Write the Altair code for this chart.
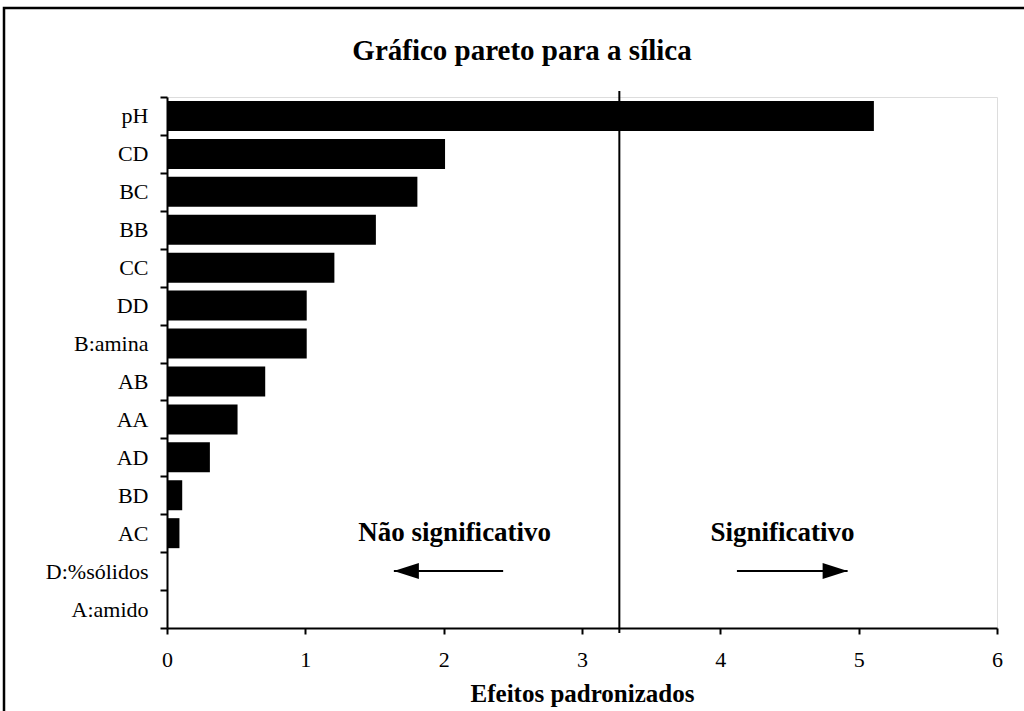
import altair as alt
import pandas as pd

categories = ["pH", "CD", "BC", "BB", "CC", "DD", "B:amina", "AB", "AA",
              "AD", "BD", "AC", "D:%sólidos", "A:amido"]
effects = [5.11, 2.01, 1.81, 1.51, 1.21, 1.01, 1.01, 0.71, 0.51,
           0.31, 0.11, 0.09, 0.0, 0.0]
critical_value = [3.27]
x_ticks = [0, 1, 2, 3, 4, 5, 6]

chart_title = ["Gráfico pareto para a sílica"]

note_labels = ["Não significativo", "Significativo"]
note_x = [2.08, 4.45]
note_row = ["AC", "AC"]

arrow_from = [2.43, 4.12]
arrow_to = [1.64, 4.92]
arrow_row = ["D:%sólidos", "D:%sólidos"]

FONT = "Liberation Serif"
W, H = 830, 531

bars_df = pd.DataFrame({"term": categories, "effect": effects})
notes_df = pd.DataFrame({"term": note_row, "effect": note_x, "label": note_labels})
arrows_df = pd.DataFrame({"term": arrow_row, "effect": arrow_from, "effect_end": arrow_to})
head_left_df = pd.DataFrame({"term": [arrow_row[0]], "effect": [arrow_to[0]]})
head_right_df = pd.DataFrame({"term": [arrow_row[1]], "effect": [arrow_to[1]]})
title_df = pd.DataFrame({"label": chart_title})
dummy_df = pd.DataFrame({"a": [0]})

x_scale = alt.Scale(domain=[0, 6], nice=False, zero=True)
y_scale = alt.Scale(paddingInner=0, paddingOuter=0)

x_axis = alt.Axis(
    values=x_ticks, format="d", grid=False, labelFlush=False,
    domainColor="black", domainWidth=2,
    tickColor="black", tickWidth=2, tickSize=6,
    labelFont=FONT, labelFontSize=22, labelColor="black", labelPadding=15,
    title="Efeitos padronizados", titleFont=FONT, titleFontSize=25,
    titleFontWeight="bold", titleColor="black",
    titleBaseline="middle", titleY=65,
)
y_axis = alt.Axis(
    title=None, grid=False, tickBand="extent",
    domainColor="black", domainWidth=2,
    tickColor="black", tickWidth=2, tickSize=7,
    labelFont=FONT, labelFontSize=22, labelColor="black", labelPadding=12,
)

x_enc = alt.X("effect:Q", scale=x_scale, axis=x_axis, title="Efeitos padronizados")
y_enc = alt.Y("term:N", sort=categories, scale=y_scale, axis=y_axis, title=None)

frame = alt.Chart(dummy_df).mark_rect(
    fill=None, stroke="black", strokeWidth=2.5
).encode(
    x=alt.value(-163), x2=alt.value(900),
    y=alt.value(-89), y2=alt.value(700),
)

title_mark = alt.Chart(title_df).mark_text(
    font=FONT, fontSize=29, fontWeight="bold", color="black",
    baseline="middle", align="center"
).encode(x=alt.value(522 - 167), y=alt.value(-46), text="label:N")

bars = alt.Chart(bars_df).mark_bar(color="black", size=30).encode(x=x_enc, y=y_enc)

crit = alt.Chart(dummy_df).mark_rule(color="black", strokeWidth=2).encode(
    x=alt.X(datum=critical_value[0], scale=x_scale),
    y=alt.value(-6), y2=alt.value(H + 5),
)

notes = alt.Chart(notes_df).mark_text(
    font=FONT, fontSize=27, fontWeight="bold", color="black", baseline="middle"
).encode(x=x_enc, y=y_enc, text="label:N")

arrow_lines = alt.Chart(arrows_df).mark_rule(color="black", strokeWidth=2).encode(
    x=x_enc, x2="effect_end:Q", y=y_enc
)

head_left = alt.Chart(head_left_df).mark_point(
    shape="M0,0 L2,-0.64 L2,0.64 Z", size=625, filled=True, color="black", opacity=1
).encode(x=x_enc, y=y_enc)

head_right = alt.Chart(head_right_df).mark_point(
    shape="M0,0 L-2,-0.64 L-2,0.64 Z", size=625, filled=True, color="black", opacity=1
).encode(x=x_enc, y=y_enc)

chart = alt.layer(
    frame, title_mark, bars, crit, notes, arrow_lines, head_left, head_right
).properties(
    width=W, height=H,
    autosize=alt.AutoSizeParams(type="none"),
    padding={"left": 167, "top": 97, "right": 27, "bottom": 83},
).configure_view(
    stroke="black", strokeWidth=1.5
).configure(background="white")

chart.save("out.html", embed_options={"renderer": "svg", "actions": False})
